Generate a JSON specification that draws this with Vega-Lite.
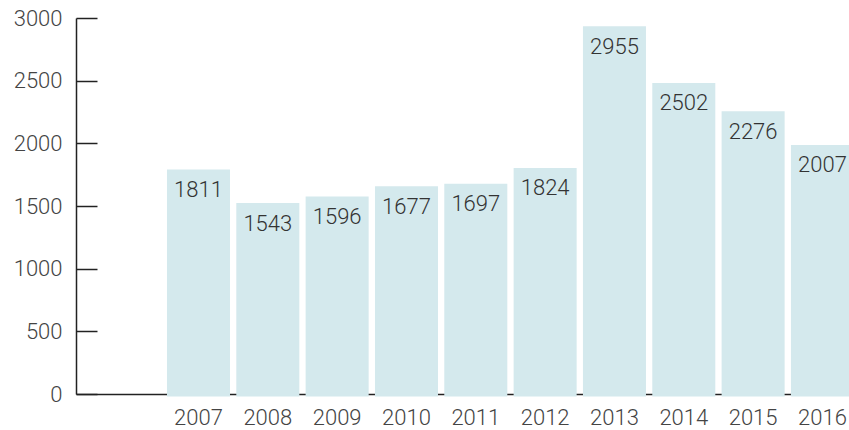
{
  "$schema": "https://vega.github.io/schema/vega-lite/v6.json",
  "width": 773,
  "height": 376,
  "autosize": {"type": "none"},
  "padding": {"left": 76, "top": 18, "right": 0, "bottom": 36},
  "background": "white",
  "config": {
    "view": {"stroke": null},
    "font": "Roboto"
  },
  "data": {
    "values": [
      {"year": "2007", "value": 1811},
      {"year": "2008", "value": 1543},
      {"year": "2009", "value": 1596},
      {"year": "2010", "value": 1677},
      {"year": "2011", "value": 1697},
      {"year": "2012", "value": 1824},
      {"year": "2013", "value": 2955},
      {"year": "2014", "value": 2502},
      {"year": "2015", "value": 2276},
      {"year": "2016", "value": 2007}
    ]
  },
  "encoding": {
    "x": {
      "field": "year",
      "type": "ordinal",
      "scale": {"range": [0, 800], "paddingInner": 0.091, "paddingOuter": 0.815, "align": 0.805},
      "axis": {
        "title": null,
        "labelAngle": 0,
        "ticks": false,
        "domainColor": "#222222",
        "domainWidth": 1.5,
        "labelFont": "Roboto",
        "labelFontWeight": 300,
        "labelFontSize": 22,
        "labelColor": "#444444",
        "labelPadding": 13
      }
    },
    "y": {
      "field": "value",
      "type": "quantitative",
      "scale": {"domain": [0, 3000], "nice": false},
      "axis": {
        "title": null,
        "format": "d",
        "values": [0, 500, 1000, 1500, 2000, 2500, 3000],
        "grid": false,
        "tickSize": -21,
        "tickColor": "#222222",
        "tickWidth": 1.5,
        "domainColor": "#222222",
        "domainWidth": 1.5,
        "labelFont": "Roboto",
        "labelFontWeight": 300,
        "labelFontSize": 22,
        "labelColor": "#444444",
        "labelPadding": 35
      }
    }
  },
  "layer": [
    {
      "mark": {"type": "bar", "color": "#d4e9ed", "yOffset": 2.5, "y2Offset": 2.5}
    },
    {
      "mark": {"type": "text", "baseline": "middle", "align": "center", "dy": 23, "font": "Roboto", "fontWeight": 300, "fontSize": 22, "color": "#333333"},
      "encoding": {"text": {"field": "value", "type": "quantitative", "format": "d"}}
    }
  ]
}
